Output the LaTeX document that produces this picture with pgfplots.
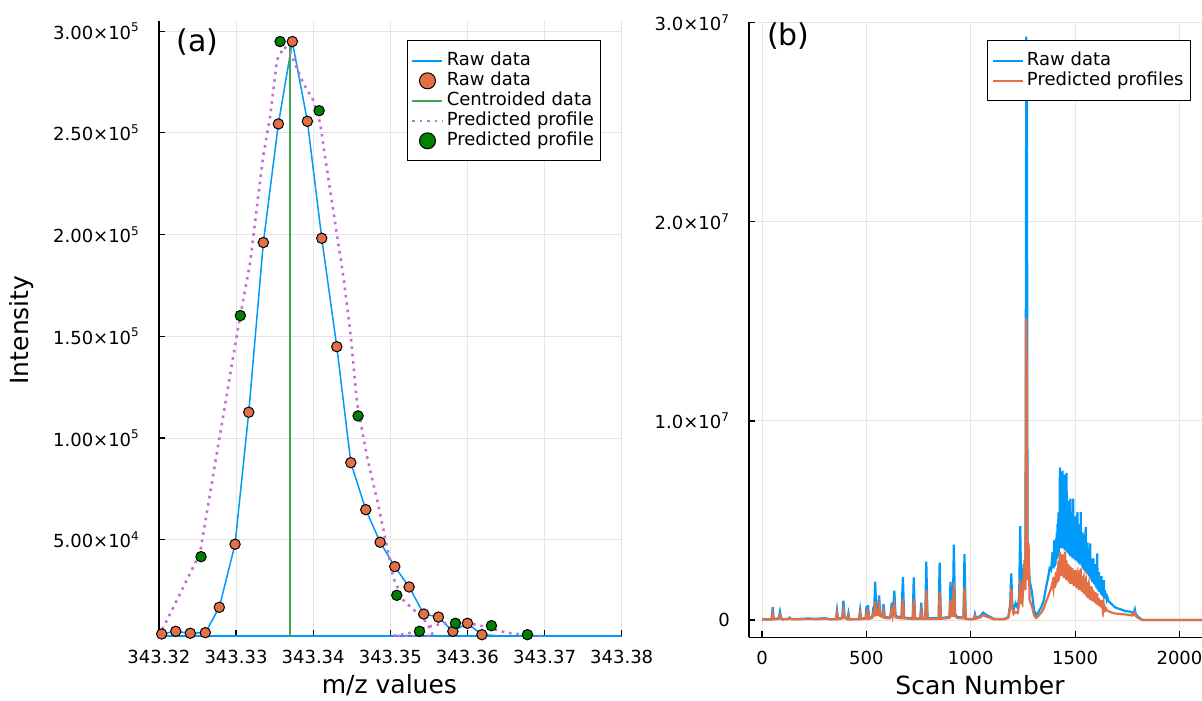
\documentclass[border=0pt]{standalone}
\usepackage{fontspec}
\setmainfont{DejaVu Sans}
\usepackage{pgfplots}
\usepackage{pgfplotstable}
\pgfplotsset{compat=1.18}

\definecolor{jblue}{HTML}{009AFA}
\definecolor{jorange}{HTML}{E26F46}
\definecolor{jgreen}{HTML}{3EA44E}
\definecolor{jpurple}{HTML}{C271D2}
\definecolor{mgreen}{HTML}{008000}

% panel (a): raw spectrum points
\pgfplotstableread{
mz int
343.32036 3690
343.32218 5010
343.32407 4030
343.32602 4330
343.32783 16800
343.32987 47800
343.33165 112700
343.33354 196100
343.33549 254400
343.33730 294900
343.33925 255700
343.34111 198200
343.34306 144900
343.34488 87900
343.34682 64800
343.34868 48800
343.35058 36800
343.35244 26800
343.35434 13500
343.35624 12000
343.35811 5010
343.36000 8950
343.36187 3340
343.36567 2360
}\rawpts

% panel (a): predicted profile points
\pgfplotstableread{
mz int
343.32546 41700
343.33056 160200
343.33571 294900
343.34077 260900
343.34582 110900
343.35084 22700
343.35378 5010
343.35594 2360
343.35844 8950
343.36311 7770
343.36778 3340
}\predpts

% panel (a): predicted profile curve (two peaks)
\pgfplotstableread{
mz int
343.32001 2700
343.32235 20400
343.32533 43500
343.33026 154100
343.33182 186000
343.33350 238200
343.33441 257800
343.33532 285900
343.33623 292300
343.33700 289800
343.33869 274600
343.33999 266200
343.34089 254900
343.34219 222000
343.34388 180200
343.34479 153100
343.34569 117200
343.34699 90700
343.34829 69600
343.34958 46500
343.35036 31700
343.35166 20400
343.35348 14000
343.35477 9100
343.35555 2700
343.35036 2700
343.35257 4200
343.35477 7100
343.35776 9600
343.35996 9100
343.36255 7100
343.36515 4200
343.36943 2700
}\predcurve

% panel (a): centroid stick
\pgfplotstableread{
mz int
343.33694 2450
343.33694 294900
}\centroid

% panel (b): chromatogram
\pgfplotstableread{
scan raw pred
1 4e4 3e4
46 4e4 3e4
51 6.4e5 3.4e5
56 6e4 4e4
80 8e4 5e4
86 4.2e5 2.5e5
92 8e4 5e4
100 4e4 3e4
125 6e4 4e4
132 1.2e5 8e4
140 5e4 4e4
190 6e4 4e4
220 8e4 5e4
260 6e4 4e4
300 9e4 6e4
330 4e4 3e4
354 5e4 4e4
359 5.0e5 3.4e5
364 6e4 4e4
384 1.2e5 8e4
390 9.7e5 5.0e5
396 1.5e5 1e5
409 6e4 4e4
414 3.4e5 2.0e5
419 4e4 3e4
465 5e4 4e4
470 5.0e5 3.4e5
475 6e4 4e4
496 1e5 6e4
501 7.0e5 3.4e5
505 3e5 2e5
508 7.5e5 4e5
513 1e5 6e4
528 1.5e5 1e5
532 5e5 3e5
537 4e5 2.5e5
542 1.92e6 9.2e5
548 4e5 2.5e5
556 4e5 2.5e5
561 1.24e6 7e5
566 3e5 2e5
577 2e5 1.5e5
582 8e5 4.5e5
588 1.5e5 1e5
610 1.2e5 8e4
616 2.5e5 1.5e5
621 8.7e5 5e5
626 3e5 2e5
634 1.47e6 7.5e5
640 2e5 1.2e5
668 1.2e5 8e4
675 2.17e6 1.04e6
681 1.2e5 8e4
722 8e4 5e4
727 2.14e6 1.06e6
733 8e4 5e4
758 8e4 5e4
763 8.7e5 4.5e5
768 8e4 5e4
782 8e4 5e4
787 2.93e6 1.5e6
793 8e4 5e4
846 1e5 6e4
851 2.88e6 1.42e6
857 1e5 6e4
898 1.5e5 1e5
903 1.92e6 1.0e6
909 3e5 2e5
914 3e5 2e5
919 3.78e6 1.87e6
925 3e5 2e5
935 1.5e5 1e5
965 1.2e5 8e4
970 3.31e6 1.62e6
976 8e4 5e4
1000 4e4 3e4
1016 8e4 5e4
1020 3e5 2e5
1025 1e5 7e4
1045 2e5 1.3e5
1060 3.7e5 2.5e5
1075 2.5e5 1.7e5
1095 1.5e5 1e5
1110 6e4 4e4
1160 5e4 4e4
1180 1.5e5 1e5
1189 8e5 6e5
1194 2.34e6 1.6e6
1199 8e5 6e5
1205 5e5 3e5
1215 8.4e5 4e5
1225 6e5 3.5e5
1232 1.2e6 8e5
1237 4.72e6 2.04e6
1242 1.5e6 9e5
1247 1.2e6 8e5
1253 2.76e6 2.0e6
1258 2.8e6 3.0e6
1262 2.0e6 1.5e6
1266 2.93e7 1.515e7
1269 2.75e7 1.2e7
1272 4.0e6 2.0e6
1277 3.0e6 3.85e6
1282 2.0e6 1.0e6
1293 1.42e6 7e5
1303 5e5 2.5e5
1313 2.5e5 1.0e5
1321 3.4e5 1.65e5
1330 5e5 2.8e5
1340 7e5 4e5
1350 1.0e6 6e5
1360 1.6e6 9e5
1370 2.1e6 1.17e6
1378 2.6e6 1.4e6
1385 2.5e6 1.6e6
1392 3.4e6 1.9e6
1396 2.6e6 1.6e6
1400 4.0e6 2.17e6
1402 2.7e6 1.6e6
1404 3.5e6 1.9e6
1406 2.8e6 1.7e6
1408 4.1e6 2.4e6
1410 3.0e6 1.8e6
1412 4.4e6 2.2e6
1414 3.1e6 1.9e6
1416 4.8e6 2.6e6
1418 3.2e6 1.9e6
1420 5.4e6 3.0e6
1422 3.4e6 2.0e6
1424 4.6e6 2.6e6
1426 3.6e6 2.2e6
1427 7.66e6 3.43e6
1429 3.6e6 2.2e6
1431 6.0e6 3.2e6
1433 3.7e6 2.2e6
1435 5.2e6 2.9e6
1437 3.6e6 2.3e6
1439 6.6e6 3.1e6
1440 7.5e6 3.3e6
1442 3.6e6 2.2e6
1444 5.5e6 3.0e6
1446 3.7e6 2.1e6
1448 6.2e6 2.8e6
1450 3.5e6 2.3e6
1452 7.3e6 3.43e6
1454 3.6e6 2.1e6
1456 5.6e6 2.9e6
1458 3.5e6 2.0e6
1459 7.39e6 3.0e6
1461 3.4e6 2.0e6
1463 5.3e6 2.7e6
1465 3.5e6 2.1e6
1467 6.0e6 2.8e6
1469 3.3e6 1.9e6
1471 5.0e6 2.6e6
1473 3.4e6 2.0e6
1475 5.6e6 2.7e6
1477 3.2e6 1.8e6
1478 6.1e6 2.67e6
1480 3.2e6 1.8e6
1482 4.9e6 2.4e6
1484 3.3e6 1.9e6
1486 5.4e6 2.6e6
1488 3.1e6 1.8e6
1491 6.1e6 2.5e6
1493 3.1e6 1.7e6
1495 4.7e6 2.4e6
1497 3.2e6 1.8e6
1499 5.2e6 2.5e6
1501 3.0e6 1.7e6
1503 4.5e6 2.3e6
1505 5.0e6 2.5e6
1507 3.0e6 1.6e6
1509 4.6e6 2.2e6
1511 5.43e6 2.3e6
1513 2.9e6 1.6e6
1515 4.3e6 2.2e6
1517 2.9e6 1.5e6
1519 4.8e6 2.4e6
1521 2.8e6 1.5e6
1523 4.2e6 2.5e6
1525 2.9e6 1.6e6
1527 5.43e6 2.59e6
1529 2.8e6 1.5e6
1531 4.0e6 2.1e6
1533 2.7e6 1.4e6
1535 4.4e6 2.2e6
1537 2.6e6 1.4e6
1539 3.8e6 2.0e6
1541 4.3e6 2.1e6
1543 2.5e6 1.3e6
1545 3.9e6 2.0e6
1547 2.5e6 1.3e6
1549 4.2e6 1.9e6
1551 4.68e6 2.0e6
1553 2.4e6 1.2e6
1555 3.6e6 1.8e6
1557 2.3e6 1.2e6
1559 3.9e6 1.9e6
1561 2.3e6 1.1e6
1563 3.4e6 1.7e6
1565 3.6e6 1.8e6
1567 2.2e6 1.1e6
1569 3.3e6 1.6e6
1571 2.1e6 1.0e6
1572 3.85e6 1.7e6
1574 2.1e6 1.0e6
1576 3.1e6 1.6e6
1578 2.0e6 1.0e6
1580 3.0e6 1.67e6
1582 1.9e6 9.5e5
1584 2.8e6 1.4e6
1586 1.9e6 9.5e5
1588 3.1e6 1.5e6
1590 1.8e6 9.0e5
1592 2.7e6 1.3e6
1594 1.8e6 9.0e5
1596 2.6e6 1.4e6
1598 1.7e6 8.5e5
1600 2.8e6 1.3e6
1602 1.6e6 8.0e5
1604 2.5e6 1.2e6
1606 3.35e6 1.34e6
1608 1.5e6 7.5e5
1610 2.3e6 1.1e6
1612 1.5e6 7.5e5
1614 2.4e6 1.1e6
1616 1.4e6 7.0e5
1618 2.1e6 1.0e6
1620 1.4e6 7.0e5
1622 2.0e6 9.5e5
1624 1.3e6 6.5e5
1626 2.2e6 1.0e6
1628 1.25e6 6.0e5
1630 1.8e6 8.5e5
1632 1.2e6 6.0e5
1634 1.7e6 7.5e5
1636 1.15e6 5.5e5
1638 2.0e6 7.0e5
1640 1.1e6 5.2e5
1643 1.5e6 6.0e5
1646 1.05e6 5.0e5
1649 1.35e6 5.5e5
1652 1.0e6 4.8e5
1656 1.1e6 4.7e5
1660 9.5e5 4.4e5
1670 8.5e5 4e5
1680 7.5e5 3.6e5
1690 6.5e5 3.3e5
1700 6e5 3.2e5
1717 5.4e5 3e5
1740 4.5e5 2.8e5
1764 4.2e5 2.5e5
1775 3.6e5 2.2e5
1782 4e5 3.2e5
1786 5.4e5 3.8e5
1790 3e5 2e5
1800 1.8e5 1.2e5
1812 8e4 5e4
1822 0 0
2120 0 0
}\chrom

\pgfplotsset{
  jstyle/.style={
    scale only axis,
    axis x line*=bottom, axis y line*=left,
    axis line style={black, line width=0.6pt},
    tick align=inside, major tick length=3pt,
    every tick/.style={black, line width=0.6pt},
    grid=major, major grid style={black!10, line width=0.5pt},
    scaled ticks=false,
    /pgf/number format/assume math mode=true,
    tick label style={font=\fontsize{9}{10}\selectfont},
    xticklabel style={anchor=base, yshift=-13.5pt},
    yticklabel style={anchor=east, xshift=-6pt},
    label style={font=\fontsize{12.5}{14}\selectfont},
    legend style={
      font=\fontsize{9}{10}\selectfont,
      draw=black, line width=0.5pt,
      inner xsep=2pt, inner ysep=5pt, row sep=0pt,
      cells={anchor=west},
      nodes={inner xsep=1.5pt, inner ysep=0.5pt, text height=6.8pt, text depth=2.2pt},
    },
    legend image code/.code={
      \draw[mark repeat=2, mark phase=2, #1]
        plot coordinates {(0pt,0pt) (7.5pt,0pt) (15pt,0pt)};
    },
  },
}

\begin{document}
\begin{tikzpicture}
\begin{axis}[
  jstyle,
  at={(79.45pt,31.75pt)}, anchor=south west,
  width=231.4pt, height=307.75pt,
  xmin=343.32, xmax=343.38,
  ymin=2450, ymax=305000,
  xtick={343.32,343.33,343.34,343.35,343.36,343.37,343.38},
  xticklabels={343.32,343.33,343.34,343.35,343.36,343.37,343.38},
  ytick={50000,100000,150000,200000,250000,300000},
  yticklabels={{5.00×10\textsuperscript{4}},{1.00×10\textsuperscript{5}},{1.50×10\textsuperscript{5}},{2.00×10\textsuperscript{5}},{2.50×10\textsuperscript{5}},{3.00×10\textsuperscript{5}}},
  xlabel={m/z values},
  ylabel={Intensity},
  xlabel style={at={(axis description cs:0.498,-0.0934)}, anchor=base},
  ylabel style={at={(axis description cs:-0.296,0.498)}, anchor=center},
  legend style={at={(0.5354,0.9686)}, anchor=north west},
]
\addplot[jblue, line width=1.5pt, forget plot] coordinates {(343.31,2450) (343.39,2450)};
\addplot[jblue, line width=0.75pt] table[x=mz, y=int] {\rawpts};
\addlegendentry{Raw data}
\addplot[only marks, mark=*, mark size=2.6pt, mark options={fill=jorange, draw=black, line width=0.5pt},
  legend image post style={mark size=4pt}] table[x=mz, y=int] {\rawpts};
\addlegendentry{Raw data}
\addplot[color=jgreen, solid, line width=1pt, mark=none] table[x=mz, y=int] {\centroid};
\addlegendentry{Centroided data}
\addplot[jpurple, line width=1.3pt, dash pattern=on 1.3pt off 2.4pt] table[x=mz, y=int] {\predcurve};
\addlegendentry{Predicted profile}
\addplot[only marks, mark=*, mark size=2.6pt, mark options={fill=mgreen, draw=black, line width=0.5pt},
  legend image post style={mark size=4pt}] table[x=mz, y=int] {\predpts};
\addlegendentry{Predicted profile}
\node[font=\fontsize{15}{18}\selectfont] at (rel axis cs:0.0834,0.965) {(a)};
\end{axis}

\begin{axis}[
  jstyle,
  at={(374.5pt,31.35pt)}, anchor=south west,
  width=226.5pt, height=307.8pt,
  xmin=-62.3, xmax=2108,
  ymin=-8.68e5, ymax=3.005e7,
  xtick={0,500,1000,1500,2000},
  xticklabels={0,500,1000,1500,2000},
  ytick={0,1e7,2e7,3e7},
  yticklabels={0,{1.0×10\textsuperscript{7}},{2.0×10\textsuperscript{7}},{3.0×10\textsuperscript{7}}},
  xlabel={Scan Number},
  xlabel style={at={(axis description cs:0.51,-0.0921)}, anchor=base},
  legend style={at={(0.526,0.9698)}, anchor=north west},
]
\addplot[jblue, line width=1.1pt] table[x=scan, y=raw] {\chrom};
\addlegendentry{Raw data}
\addplot[jorange, line width=1.1pt] table[x=scan, y=pred] {\chrom};
\addlegendentry{Predicted profiles}
\node[font=\fontsize{15}{18}\selectfont] at (rel axis cs:0.0868,0.977) {(b)};
\end{axis}

\pgfresetboundingbox
\path[use as bounding box] (0,0) rectangle (601pt,350pt);
\end{tikzpicture}
\end{document}
